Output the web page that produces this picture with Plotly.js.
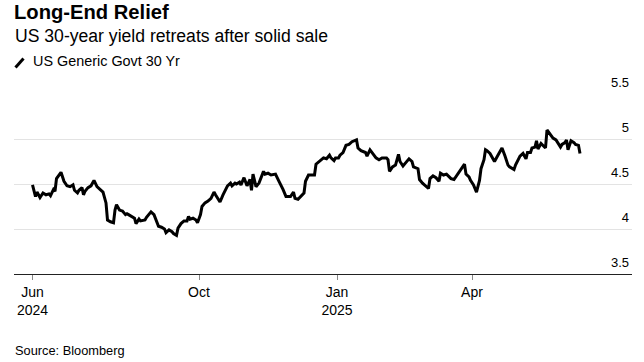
<!DOCTYPE html>
<html>
<head>
<meta charset="utf-8">
<script src="https://cdn.plot.ly/plotly-3.0.1.min.js"></script>
<style>
html,body{margin:0;padding:0;background:#fff;}
#chart{width:644px;height:362px;}
</style>
</head>
<body>
<div id="chart"></div>
<script>
const dates = [
"2024-06-12","2024-06-14","2024-06-15","2024-06-17","2024-06-19","2024-06-21","2024-06-23","2024-06-24","2024-06-26","2024-06-27",
"2024-06-28","2024-06-30","2024-07-01","2024-07-03","2024-07-05","2024-07-07","2024-07-09","2024-07-10","2024-07-12","2024-07-13",
"2024-07-15","2024-07-16","2024-07-17","2024-07-19","2024-07-21","2024-07-23","2024-07-25","2024-07-27","2024-07-29","2024-07-31",
"2024-08-01","2024-08-03","2024-08-05","2024-08-06","2024-08-07","2024-08-09","2024-08-11","2024-08-13","2024-08-14","2024-08-15",
"2024-08-17","2024-08-19","2024-08-20","2024-08-22","2024-08-23","2024-08-26","2024-08-27","2024-08-30","2024-09-01","2024-09-02",
"2024-09-04","2024-09-06","2024-09-08","2024-09-09","2024-09-11","2024-09-13","2024-09-14","2024-09-16","2024-09-17","2024-09-19",
"2024-09-21","2024-09-23","2024-09-24","2024-09-25","2024-09-27","2024-09-29","2024-09-30","2024-10-02","2024-10-03","2024-10-05",
"2024-10-07","2024-10-09","2024-10-11","2024-10-12","2024-10-14","2024-10-15","2024-10-17","2024-10-18","2024-10-20","2024-10-22",
"2024-10-23","2024-10-25","2024-10-26","2024-10-28","2024-10-29","2024-10-31","2024-11-01","2024-11-02","2024-11-04","2024-11-05",
"2024-11-06","2024-11-08","2024-11-10","2024-11-11","2024-11-13","2024-11-14","2024-11-16","2024-11-18","2024-11-21","2024-11-23",
"2024-11-25","2024-11-26","2024-11-28","2024-12-01","2024-12-03","2024-12-04","2024-12-06","2024-12-08","2024-12-10","2024-12-11",
"2024-12-13","2024-12-15","2024-12-17","2024-12-18","2024-12-20","2024-12-22","2024-12-23","2024-12-25","2024-12-27","2024-12-28",
"2024-12-30","2024-12-31","2025-01-02","2025-01-03","2025-01-05","2025-01-07","2025-01-09","2025-01-11","2025-01-14","2025-01-15",
"2025-01-17","2025-01-20","2025-01-21","2025-01-23","2025-01-25","2025-01-27","2025-01-29","2025-01-31","2025-02-03","2025-02-04",
"2025-02-05","2025-02-07","2025-02-09","2025-02-11","2025-02-12","2025-02-14","2025-02-16","2025-02-18","2025-02-20","2025-02-21",
"2025-02-24","2025-02-25","2025-02-27","2025-03-01","2025-03-03","2025-03-04","2025-03-06","2025-03-08","2025-03-10","2025-03-11",
"2025-03-13","2025-03-15","2025-03-16","2025-03-18","2025-03-20","2025-03-22","2025-03-24","2025-03-25","2025-03-27","2025-03-28",
"2025-03-30","2025-03-31","2025-04-02","2025-04-04","2025-04-06","2025-04-07","2025-04-09","2025-04-10","2025-04-11","2025-04-13",
"2025-04-15","2025-04-16","2025-04-18","2025-04-20","2025-04-21","2025-04-23","2025-04-25","2025-04-26","2025-04-29","2025-04-30",
"2025-05-02","2025-05-03","2025-05-05","2025-05-07","2025-05-08","2025-05-10","2025-05-11","2025-05-13","2025-05-14","2025-05-15",
"2025-05-17","2025-05-18","2025-05-20","2025-05-21","2025-05-23","2025-05-25","2025-05-27","2025-05-28","2025-05-30","2025-05-31",
"2025-06-02","2025-06-03","2025-06-04","2025-06-06","2025-06-08","2025-06-09","2025-06-11","2025-06-12"
];
const yields = [
4.49,4.36,4.41,4.35,4.40,4.38,4.39,4.37,4.44,4.42,
4.56,4.61,4.63,4.53,4.48,4.47,4.49,4.43,4.40,4.43,
4.46,4.38,4.42,4.46,4.48,4.54,4.47,4.44,4.41,4.29,
4.10,4.08,4.07,4.21,4.27,4.21,4.20,4.16,4.17,4.16,
4.14,4.12,4.06,4.11,4.09,4.10,4.13,4.19,4.16,4.11,
4.03,4.02,4.00,3.96,3.99,3.97,3.95,3.93,4.01,4.06,
4.09,4.09,4.14,4.11,4.12,4.10,4.07,4.16,4.25,4.29,
4.31,4.34,4.41,4.38,4.33,4.30,4.38,4.41,4.48,4.51,
4.48,4.51,4.50,4.52,4.49,4.57,4.52,4.48,4.55,4.43,
4.61,4.47,4.51,4.56,4.64,4.61,4.62,4.60,4.61,4.54,
4.48,4.44,4.36,4.36,4.41,4.34,4.33,4.36,4.40,4.53,
4.60,4.60,4.60,4.72,4.75,4.77,4.79,4.78,4.82,4.79,
4.76,4.79,4.79,4.82,4.85,4.93,4.94,4.97,4.99,4.90,
4.87,4.85,4.81,4.88,4.84,4.79,4.77,4.79,4.79,4.77,
4.64,4.69,4.71,4.83,4.75,4.70,4.74,4.78,4.75,4.69,
4.67,4.55,4.51,4.48,4.45,4.56,4.59,4.57,4.53,4.62,
4.60,4.61,4.59,4.56,4.55,4.60,4.64,4.67,4.72,4.61,
4.58,4.54,4.49,4.41,4.54,4.67,4.77,4.88,4.87,4.84,
4.79,4.75,4.81,4.86,4.90,4.81,4.71,4.69,4.66,4.71,
4.79,4.81,4.84,4.78,4.85,4.85,4.90,4.91,4.98,4.89,
4.95,4.93,4.90,5.10,5.05,5.01,4.99,4.96,4.91,4.94,
4.96,4.99,4.88,4.98,4.96,4.94,4.93,4.84
];
const xTickVals = ["2024-06-12","2024-10-01","2025-01-01","2025-04-01"];
const xTickText = ["Jun<br>2024","Oct","Jan<br>2025","Apr"];
const yTickVals = [3.5,4,4.5,5,5.5];
const yTickText = ["3.5","4","4.5","5","5.5"];
const seriesName = "US Generic Govt 30 Yr";

const FONT = "Liberation Sans, Arial, Helvetica, sans-serif";
const W = 644, H = 362, ML = 14, MR = 12, MT = 94, MB = 88;
const PW = W - ML - MR, PH = H - MT - MB;
const px = x => (x - ML) / PW;
const py = y => (H - MB - y) / PH;

const trace = {
  x: dates, y: yields, type: "scatter", mode: "lines", name: seriesName,
  line: {color: "#000000", width: 3}, hoverinfo: "skip", showlegend: false
};

const layout = {
  width: W, height: H,
  margin: {l: ML, r: MR, t: MT, b: MB, pad: 0},
  paper_bgcolor: "#ffffff", plot_bgcolor: "#ffffff",
  font: {family: FONT, color: "#000000"},
  showlegend: false,
  title: {
    text: "<b>Long-End Relief</b>", font: {family: FONT, size: 20.2, color: "#000000"},
    xref: "container", yref: "container", x: ML / W, xanchor: "left",
    y: 1 - 12 / H, yanchor: "middle", pad: {t: 0, b: 0, l: 0, r: 0}
  },
  xaxis: {
    type: "date", range: ["2024-05-30 16:00", "2025-07-16 16:00"],
    tickmode: "array", tickvals: xTickVals, ticktext: xTickText,
    ticks: "outside", ticklen: 5, tickwidth: 1, tickcolor: "#888888",
    showline: true, linecolor: "#222222", linewidth: 1,
    showgrid: false, zeroline: false,
    tickfont: {family: FONT, size: 14, color: "#000000"}, fixedrange: true
  },
  yaxis: {
    range: [3.5, 5.5], side: "right", tickmode: "array",
    tickvals: yTickVals, ticktext: yTickText,
    ticklabelposition: "inside", ticklabelshift: -12, ticklabeloverflow: "allow",
    ticks: "", showline: false, showgrid: true, gridcolor: "#e3e3e3", gridwidth: 1,
    zeroline: false, tickfont: {family: FONT, size: 13, color: "#000000"}, fixedrange: true
  },
  shapes: [
    {type: "line", xref: "paper", yref: "paper",
     x0: px(15.5), y0: py(67.5), x1: px(23.5), y1: py(58.5),
     line: {color: "#000000", width: 3}}
  ],
  annotations: [
    {text: "US 30-year yield retreats after solid sale", xref: "paper", yref: "paper",
     x: px(14), y: py(36), xanchor: "left", yanchor: "middle", showarrow: false,
     font: {family: FONT, size: 17.6, color: "#000000"}, borderpad: 0},
    {text: seriesName, xref: "paper", yref: "paper",
     x: px(32), y: py(61.5), xanchor: "left", yanchor: "middle", showarrow: false,
     font: {family: FONT, size: 14.4, color: "#000000"}, borderpad: 0},
    {text: "Source: Bloomberg", xref: "paper", yref: "paper",
     x: px(14), y: py(350), xanchor: "left", yanchor: "middle", showarrow: false,
     font: {family: FONT, size: 12.8, color: "#000000"}, borderpad: 0}
  ]
};

Plotly.newPlot("chart", [trace], layout, {staticPlot: true, displayModeBar: false});
</script>
</body>
</html>
